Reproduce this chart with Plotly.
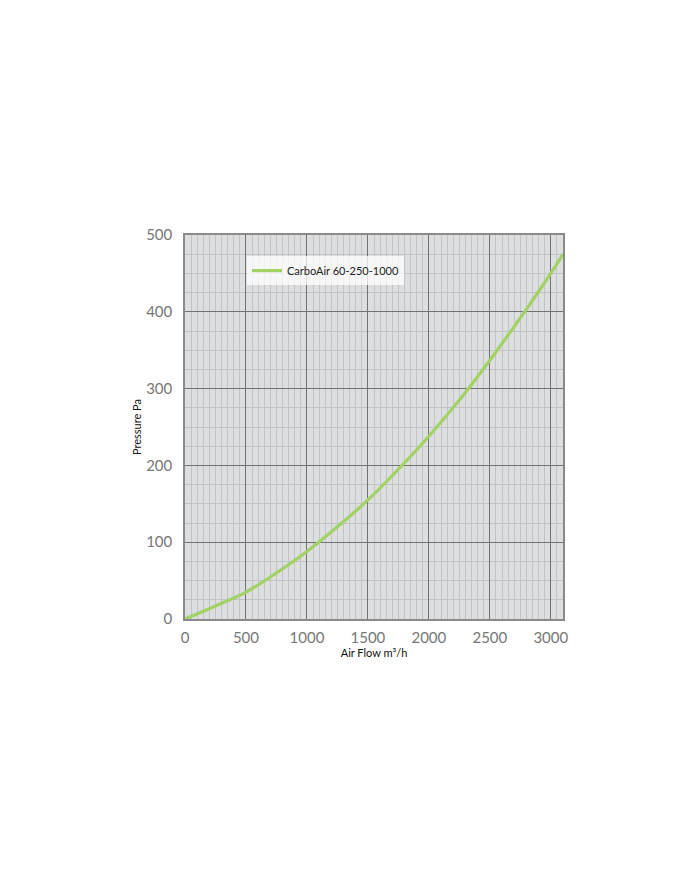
import plotly.graph_objects as go

# fan curve
air_flow = [0, 250, 500, 750, 1000, 1250, 1500, 1750, 2000, 2250, 2500, 2750, 3000, 3100]
pressure = [0, 17, 35, 60, 88, 120, 155, 195, 238, 285, 337, 392, 450, 475]
series_name = "CarboAir 60-250-1000"

x_ticks = [0, 500, 1000, 1500, 2000, 2500, 3000]
y_ticks = [0, 100, 200, 300, 400, 500]

fig = go.Figure()
fig.add_trace(go.Scatter(x=air_flow, y=pressure, mode="lines", name=series_name,
                         line=dict(color="#a2d264", width=3.2, shape="spline")))

fig.update_layout(
    width=700, height=869,
    margin=dict(l=177, r=145, t=227, b=258),
    paper_bgcolor="white",
    plot_bgcolor="#dddee0",
    font=dict(family="Lato, sans-serif", color="#777777"),
    showlegend=True,
    legend=dict(x=0.164, y=0.945, xanchor="left", yanchor="top",
                bgcolor="rgba(255,255,255,0.75)", borderwidth=0,
                font=dict(size=11, color="#222222"),
                itemwidth=30, tracegroupgap=0),
)

fig.update_xaxes(
    range=[0, 3100], tickvals=x_ticks, ticks="", showgrid=True,
    gridcolor="#727272", gridwidth=1,
    minor=dict(dtick=50, showgrid=True, gridcolor="#c2c3c5", gridwidth=0.6),
    showline=True, linecolor="#8a8a8a", linewidth=1.5, mirror=True,
    zeroline=False, tickfont=dict(size=15, color="#777777"), ticklabelstandoff=4,
    title=dict(text="Air Flow m³/h", font=dict(size=11, color="#111111"), standoff=0),
)
fig.update_yaxes(
    range=[0, 500], tickvals=y_ticks, ticks="", showgrid=True,
    gridcolor="#727272", gridwidth=1,
    minor=dict(dtick=25, showgrid=True, gridcolor="#c2c3c5", gridwidth=0.6),
    showline=True, linecolor="#8a8a8a", linewidth=1.5, mirror=True,
    zeroline=False, tickfont=dict(size=15, color="#777777"), ticklabelstandoff=8,
    title=dict(text="Pressure Pa", font=dict(size=11, color="#111111"), standoff=2),
)

fig.write_html("out.html")
